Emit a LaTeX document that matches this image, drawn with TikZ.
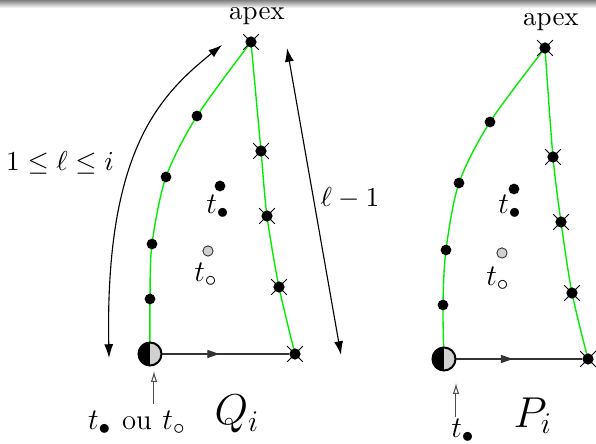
\documentclass[tikz,border=0pt]{standalone}
\usepackage{xcolor}
\usepackage{tikz}
\usetikzlibrary{arrows.meta, shapes.misc, backgrounds, decorations.markings}
\definecolor{chaingreen}{RGB}{0,235,0}
\definecolor{halfgray}{RGB}{208,208,208}
\tikzstyle{dot} = [circle, fill=black, inner sep=0pt, minimum size=4.3pt]
\tikzstyle{xmark} = [cross out, draw=black, line width=0.3pt, inner sep=0pt, minimum size=6pt]
\tikzstyle{xdot} = [dot, minimum size=4.5pt, label={[xmark]center:}]
\tikzstyle{graydot} = [circle, draw=black!80, fill=halfgray, line width=0.35pt, inner sep=0pt, minimum size=4.1pt]
\tikzstyle{bigdot} = [circle, draw=black, line width=0.8pt, fill=halfgray, inner sep=0pt, minimum size=9.2pt,
    path picture={\fill[black] (path picture bounding box.south west) rectangle (path picture bounding box.north);}]
\tikzstyle{chain} = [draw=chaingreen, line width=0.55pt]
\tikzstyle{arrow} = [{Latex[length=5.5pt,width=3.6pt]}-{Latex[length=5.5pt,width=3.6pt]}, line width=0.45pt]
\tikzstyle{baseline} = [draw=black!80, line width=0.5pt, postaction={decorate},
    decoration={markings, mark=at position 0.45 with {\arrow{Triangle[length=4.8pt,width=3.2pt]}}}]
\tikzstyle{entry} = [-{Latex[open,length=4.4pt,width=2.6pt]}, draw=black!70, line width=0.4pt]
\tikzstyle{tlabel} = [font=\fontsize{13}{16}\selectfont]
\tikzstyle{figname} = [font=\fontsize{16.5}{20}\selectfont]

\begin{document}
\begin{tikzpicture}[x=0.4pt, y=-0.4pt]
    \useasboundingbox (0,0) rectangle (596,444);
    \shade[top color=black!50, bottom color=white] (0,0) rectangle (596,8);

    % Q_i
    \node[bigdot] (q0) at (150,354) {};
    \node[dot]  (q1) at (150,299) {};
    \node[dot]  (q2) at (152,244) {};
    \node[dot]  (q3) at (166,177) {};
    \node[dot]  (q4) at (197,116) {};
    \node[xdot] (qa) at (251,42) {};
    \node[xdot] (qr1) at (261,151) {};
    \node[xdot] (qr2) at (267,216) {};
    \node[xdot] (qr3) at (279,287) {};
    \node[xdot] (qr4) at (295,354) {};
    \node[dot]     (qb) at (220,186) {};
    \node[graydot] (qw) at (208,251) {};
    \node[tlabel] (qtb) at (218,207) {$t_\bullet$};
    \node[tlabel] (qtw) at (206,275) {$t_\circ$};
    \node[font=\fontsize{10.8}{13}\selectfont] (qapex) at (257,16) {apex};
    \node[tlabel] (qbot) at (137,423) {$t_\bullet$ {\fontsize{11.5}{14}\selectfont ou} $t_\circ$};
    \node[figname] (qname) at (237,414) {$Q_i$};
    \node[font=\fontsize{10.7}{13}\selectfont] (lrange) at (60,163) {$1\leq\ell\leq i$};
    \node[font=\fontsize{10.5}{13}\selectfont] (lminus) at (350,198) {$\ell-1$};
    \coordinate (lb) at (109,358);
    \coordinate (lt) at (222,45);
    \coordinate (rt) at (287,48);
    \coordinate (rb) at (341,355);
    \coordinate (qin) at (154,404);
    \coordinate (qtip) at (154,371);
    \begin{scope}[on background layer]
        \draw[chain] plot[smooth] coordinates {(q0) (q1) (q2) (q3) (q4) (qa)};
        \draw[chain] plot[smooth] coordinates {(qa) (qr1) (qr2) (qr3) (qr4)};
    \end{scope}
    \draw[baseline] (q0) -- (qr4);
    \draw[entry] (qin) -- (qtip);
    \draw[arrow] (lb) .. controls (105,150) and (160,95) .. (lt);
    \draw[arrow] (rb) -- (rt);

    % P_i
    \node[bigdot] (p0) at (444,359) {};
    \node[dot]  (p1) at (443,305) {};
    \node[dot]  (p2) at (446,250) {};
    \node[dot]  (p3) at (459,183) {};
    \node[dot]  (p4) at (490,122) {};
    \node[xdot] (pa) at (545,48) {};
    \node[xdot] (pr1) at (553,157) {};
    \node[xdot] (pr2) at (561,222) {};
    \node[xdot] (pr3) at (572,293) {};
    \node[xdot] (pr4) at (588,359) {};
    \node[dot]     (pb) at (514,189) {};
    \node[graydot] (pw) at (502,253) {};
    \node[tlabel] (ptb) at (510,207) {$t_\bullet$};
    \node[tlabel] (ptw) at (498,279) {$t_\circ$};
    \node[font=\fontsize{10.8}{13}\selectfont] (papex) at (551,22) {apex};
    \node[tlabel] (pbot) at (463,431) {$t_\bullet$};
    \node[figname] (pname) at (533,416) {$P_i$};
    \coordinate (pin) at (456,417);
    \coordinate (ptip) at (456,383);
    \begin{scope}[on background layer]
        \draw[chain] plot[smooth] coordinates {(p0) (p1) (p2) (p3) (p4) (pa)};
        \draw[chain] plot[smooth] coordinates {(pa) (pr1) (pr2) (pr3) (pr4)};
    \end{scope}
    \draw[baseline] (p0) -- (pr4);
    \draw[entry] (pin) -- (ptip);
\end{tikzpicture}
\end{document}
